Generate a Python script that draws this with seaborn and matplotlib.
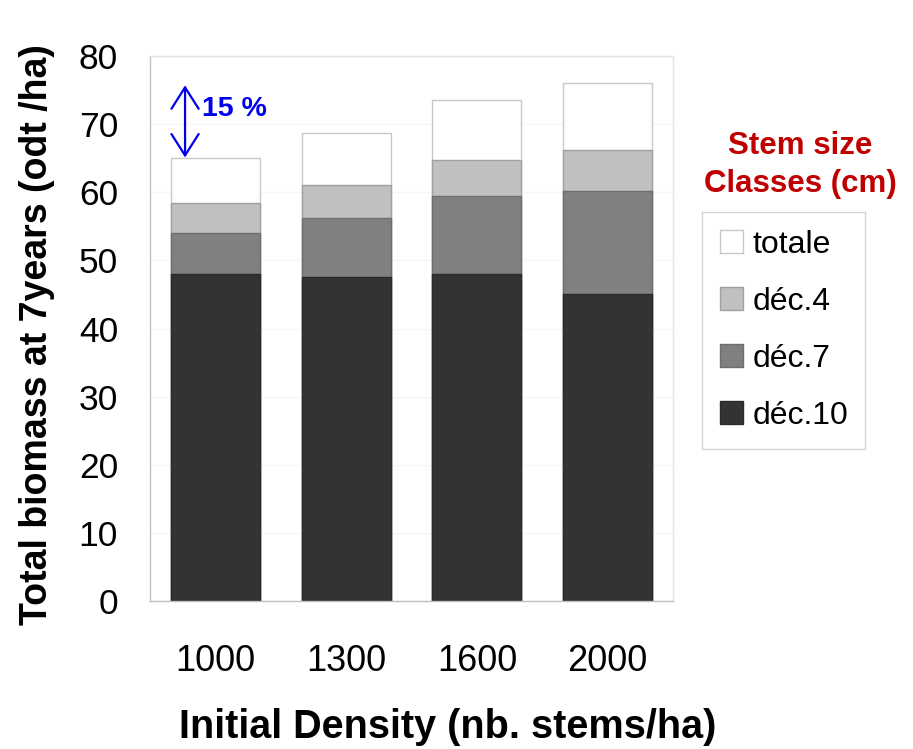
import matplotlib
matplotlib.use("Agg")
import matplotlib.pyplot as plt
from matplotlib.patches import Patch
from matplotlib.ticker import FixedLocator
import seaborn as sns

# Biomass after 7 years (odt/ha) by initial planting density,
# cumulative by stem-size class (each class includes the larger ones)
densities = ["1000", "1300", "1600", "2000"]
totale = [65.0, 68.7, 73.5, 76.1]
dec4 = [58.4, 61.0, 64.7, 66.2]
dec7 = [54.0, 56.2, 59.5, 60.2]
dec10 = [48.0, 47.6, 48.0, 45.0]

series_labels = ["totale", "déc.4", "déc.7", "déc.10"]
series_values = [totale, dec4, dec7, dec10]
fills = ["#ffffff", "#c0c0c0", "#808080", "#333333"]
edges = ["#c8c8c8", "#a0a0a0", "#6e6e6e", "#2a2a2a"]

sns.set_style("white")
plt.rcParams["font.family"] = ["Liberation Sans", "DejaVu Sans"]
plt.rcParams["text.color"] = "black"
plt.rcParams["axes.labelcolor"] = "black"
plt.rcParams["xtick.labelcolor"] = "black"
plt.rcParams["ytick.labelcolor"] = "black"

fig = plt.figure(figsize=(9.13, 7.49), dpi=100)
ax = fig.add_axes([150 / 913, 1 - 601 / 749, 523 / 913, 545 / 749])

# overlapping bars, tallest (total) first so smaller classes sit in front
for vals, fc, ec in zip(series_values, fills, edges):
    sns.barplot(x=densities, y=vals, color=fc, saturation=1, width=0.68,
                edgecolor=ec, linewidth=1.0, ax=ax, zorder=2)

ax.set_xlim(-0.5, 3.5)
ax.set_ylim(0, 80)
ax.set_yticks(range(0, 81, 10))
ax.yaxis.grid(True, color="#f5f5f5", linewidth=1, zorder=0)
ax.set_axisbelow(True)

for side in ["left", "bottom"]:
    ax.spines[side].set_color("#c0c0c0")
for side in ["top", "right"]:
    ax.spines[side].set_color("#e4e4e4")
for s in ax.spines.values():
    s.set_linewidth(1)

ax.tick_params(axis="y", length=9, width=1, color="#c0c0c0", pad=14,
               labelsize=25.5)
ax.tick_params(axis="x", which="major", length=0, pad=31, labelsize=26)
ax.xaxis.set_minor_locator(FixedLocator([-0.5, 0.5, 1.5, 2.5, 3.5]))
ax.tick_params(axis="x", which="minor", length=9, width=1, color="#c8c8c8")

ax.set_xlabel("Initial Density (nb. stems/ha)", fontsize=28.5,
              fontweight="bold")
ax.set_ylabel("Total biomass at 7years (odt /ha)", fontsize=27,
              fontweight="bold")
ax.xaxis.set_label_coords(0.57, -0.197)
ax.yaxis.set_label_coords(-0.182, 0.488)

# gain between lowest and highest density
ax.annotate("", xy=(-0.232, 75.7), xytext=(-0.232, 65.1),
            arrowprops=dict(arrowstyle="<->,head_length=0.55,head_width=0.35",
                            color="#0000ee", lw=1.6,
                            mutation_scale=28, shrinkA=0, shrinkB=0))
ax.text(-0.105, 72.2, "15 %", color="#0000ee", fontsize=20.5,
        fontweight="bold", ha="left", va="center")

handles = [Patch(facecolor=fc, edgecolor=ec) for fc, ec in zip(fills, edges)]
leg = fig.legend(handles, series_labels, loc="upper left",
                 bbox_to_anchor=(702 / 913, 1 - 212 / 749), fontsize=23,
                 frameon=True, fancybox=False, edgecolor="#c8c8c8",
                 handlelength=0.72, handleheight=0.72, handletextpad=0.3,
                 labelspacing=0.85, borderpad=0.55, borderaxespad=0)
leg.get_frame().set_linewidth(1)

fig.text(800 / 913, 1 - 165 / 749, "Stem size\nClasses (cm)", color="#c00000",
         fontsize=22.5, fontweight="bold", ha="center", va="center",
         linespacing=1.35)

fig.savefig("out.png", dpi=100)
